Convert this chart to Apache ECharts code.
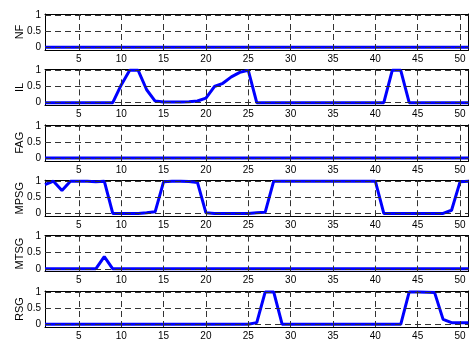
<!DOCTYPE html>
<html><head><meta charset="utf-8">
<script src="https://cdn.jsdelivr.net/npm/echarts@6/dist/echarts.min.js"></script>
<style>html,body{margin:0;padding:0;background:#fff}#c{width:469px;height:343px}</style>
</head><body><div id="c"></div>
<script>
const xValues = Array.from({length: 51}, (_, i) => i + 1);
const names = ['NF', 'IL', 'FAG', 'MPSG', 'MTSG', 'RSG'];
const xTicks = [5, 10, 15, 20, 25, 30, 35, 40, 45, 50];
const yTicks = [0, 0.5, 1];

const NF = new Array(51).fill(0);
const IL = [0,0,0,0,0,0,0,0,0,0.55, 1,1,0.4,0.05,0.02,0.02,0.02,0.03,0.05,0.14, 0.5,0.6,0.8,0.94,1,0,0,0,0,0, 0,0,0,0,0,0,0,0,0,0, 0,1,1,0,0,0,0,0,0,0, 0];
const FAG = new Array(51).fill(0);
const MPSG = [0.89,1,0.71,1,1,1,0.98,1,0,0, 0,0,0.02,0.05,0.98,1,1,0.99,0.96,0.02, 0,0,0,0,0,0.02,0.04,1,1,1, 1,1,1,1,1,1,1,1,1,1, 0,0,0,0,0,0,0,0,0.1,0.98, 1];
const MTSG = [0,0,0,0,0,0,0,0.38,0,0, 0,0,0,0,0,0,0,0,0,0, 0,0,0,0,0,0,0,0,0,0, 0,0,0,0,0,0,0,0,0,0, 0,0,0,0,0,0,0,0,0,0, 0];
const RSG = [0,0,0,0,0,0,0,0,0,0, 0,0,0,0,0,0,0,0,0,0, 0,0,0,0,0,0.05,1,1,0,0, 0,0,0,0,0,0,0,0,0,0, 0,0,0,1,1,0.99,0.98,0.15,0.05,0.05, 0.05];
const seriesData = [NF, IL, FAG, MPSG, MTSG, RSG];

const font = 'Liberation Sans, Arial, sans-serif';
const yMin = -0.085, yMax = 1.03;
const grids = [], xAxes = [], yAxes = [], series = [];
names.forEach((nm, i) => {
  grids.push({left: 45, width: 423.5, top: 14 + i * 55.4, height: 36});
  const tick = {show: true, inside: true, length: 3, lineStyle: {color: '#000'}, customValues: xTicks};
  xAxes.push({type: 'value', gridIndex: i, min: 1, max: 51, position: 'bottom',
    axisLine: {show: true, onZero: false, lineStyle: {color: '#000', width: 1}},
    axisTick: tick, splitLine: {show: false},
    axisLabel: {customValues: xTicks, color: '#000', fontFamily: font, fontSize: 10, margin: 4}});
  xAxes.push({type: 'value', gridIndex: i, min: 1, max: 51, position: 'top',
    axisLine: {show: true, onZero: false, lineStyle: {color: '#000', width: 1}},
    axisTick: tick, splitLine: {show: false}, axisLabel: {show: false}});
  const ytick = {show: true, inside: true, length: 3, lineStyle: {color: '#000'}, customValues: yTicks};
  yAxes.push({type: 'value', gridIndex: i, min: yMin, max: yMax, position: 'left',
    name: nm, nameLocation: 'middle', nameGap: 20, nameRotate: 90, nameMoveOverlap: false,
    nameTextStyle: {color: '#000', fontFamily: font, fontSize: 11},
    axisLine: {show: true, onZero: false, lineStyle: {color: '#000', width: 1}},
    axisTick: ytick, splitLine: {show: false},
    axisLabel: {customValues: yTicks, color: '#000', fontFamily: font, fontSize: 10, margin: 4,
      formatter: v => String(v)}});
  yAxes.push({type: 'value', gridIndex: i, min: yMin, max: yMax, position: 'right',
    axisLine: {show: true, onZero: false, lineStyle: {color: '#000', width: 1}},
    axisTick: ytick, splitLine: {show: false}, axisLabel: {show: false}});
  const gl = [];
  yTicks.forEach(v => gl.push([{coord: [1, v]}, {coord: [51, v]}]));
  xTicks.forEach(v => gl.push([{coord: [v, yMin]}, {coord: [v, yMax]}]));
  series.push({type: 'line', xAxisIndex: 2 * i, yAxisIndex: 2 * i, data: [[1, 0], [51, 0]], z: 1, silent: true,
    symbol: 'none', lineStyle: {opacity: 0},
    markLine: {silent: true, symbol: 'none', label: {show: false}, animation: false,
      lineStyle: {type: [6, 4], color: '#333', width: 1}, data: gl}});
  series.push({type: 'line', xAxisIndex: 2 * i, yAxisIndex: 2 * i, z: 3,
    data: xValues.map((x, k) => [x, seriesData[i][k]]),
    symbol: 'none', lineStyle: {color: '#0000ff', width: 3}, animation: false});
});

const chart = echarts.init(document.getElementById('c'));
chart.setOption({animation: false, backgroundColor: '#fff', grid: grids, xAxis: xAxes, yAxis: yAxes, series: series});
</script></body></html>
